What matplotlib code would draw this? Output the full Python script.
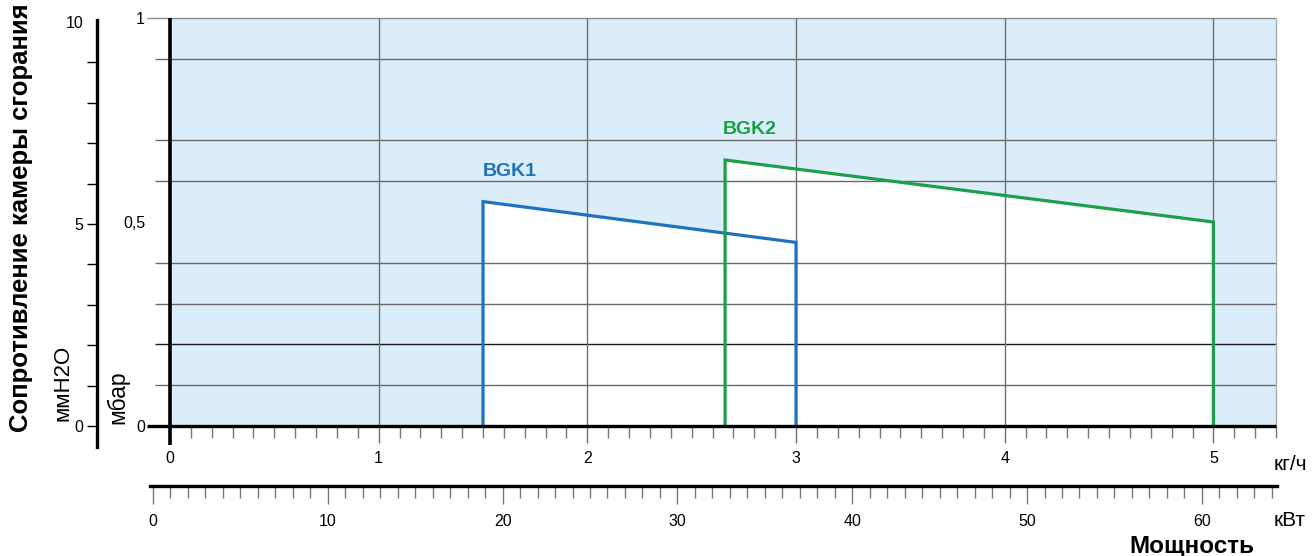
import matplotlib
matplotlib.use("Agg")
import matplotlib.pyplot as plt
import numpy as np

plt.rcParams['font.family'] = ['Liberation Sans', 'DejaVu Sans']

# ---- data (kg/h, mbar) ----
bgk1_x = [1.5, 1.5, 3.0, 3.0]
bgk1_y = [0.0, 0.55, 0.45, 0.0]
bgk2_x = [2.66, 2.66, 5.0, 5.0]
bgk2_y = [0.0, 0.652, 0.50, 0.0]
series_names = ['BGK1', 'BGK2']

kgh_ticks = [0, 1, 2, 3, 4, 5]
kw_ticks = [0, 10, 20, 30, 40, 50, 60]
mbar_ticks = [0, 0.5, 1]
mbar_labels = ['0', '0,5', '1']
mbar_grid = [0.1, 0.2, 0.3, 0.4, 0.6, 0.7, 0.9]
mmh2o_ticks = list(range(0, 11))
mmh2o_labels = ['0', '', '', '', '', '5', '', '', '', '', '10']

BLUE = '#1f72bd'
GREEN = '#1c9f4b'
BG = '#daedf8'

W, H = 1314, 556
def fx(px): return px / W
def fy(py): return 1 - py / H

fig = plt.figure(figsize=(W / 100, H / 100), dpi=100)

# ---- main axes: kg/h vs mbar ----
ax = fig.add_axes([fx(170), fy(426), (1276 - 170) / W, (426 - 18) / H])
ax.set_xlim(0, 5.3)
ax.set_ylim(0, 1)
ax.set_facecolor(BG)
for s in ax.spines.values():
    s.set_visible(False)

ax.fill(bgk1_x, bgk1_y, color='white', zorder=1, lw=0)
ax.fill(bgk2_x, bgk2_y, color='white', zorder=1, lw=0)

for g in mbar_grid:
    col = '#1a1a1a' if abs(g - 0.2) < 1e-9 else '#6a6a6a'
    ax.hlines(g, -0.072, 5.3, color=col, lw=1.0, zorder=2, clip_on=False)
ax.hlines(1.0, -0.11, 5.3, color='#8a8a8a', lw=1.0, zorder=2, clip_on=False)
ax.vlines(kgh_ticks[1:], -0.042, 1.0, color='#6f6f6f', lw=1.0, zorder=2, clip_on=False)
ax.vlines(5.3, 0, 1.0, color='#b0b0b0', lw=1.0, zorder=2, clip_on=False)

ax.plot(bgk1_x, bgk1_y, color=BLUE, lw=2.3, zorder=3, solid_joinstyle='miter')
ax.plot(bgk2_x, bgk2_y, color=GREEN, lw=2.3, zorder=3, solid_joinstyle='miter')

ax.text(bgk1_x[1], bgk1_y[1] + 0.075, series_names[0], color=BLUE, fontsize=14,
        fontweight='bold', ha='left', va='center', zorder=4)
ax.text(bgk2_x[1] - 0.01, bgk2_y[1] + 0.075, series_names[1], color=GREEN, fontsize=14,
        fontweight='bold', ha='left', va='center', zorder=4)

ax.hlines(0, -0.11, 5.3, color='black', lw=2.4, zorder=5, clip_on=False)
ax.vlines(0, -0.047, 1.0, color='black', lw=2.6, zorder=5, clip_on=False)

ax.set_xticks(kgh_ticks)
ax.set_xticklabels([str(t) for t in kgh_ticks], fontsize=11.5)
ax.set_xticks([t / 10 for t in range(1, 54) if t % 10 != 0], minor=True)
ax.tick_params(axis='x', which='major', length=0, pad=18)
ax.tick_params(axis='x', which='minor', length=8.6, width=1, color='#777777', direction='out')
ax.set_yticks(mbar_ticks)
ax.set_yticklabels(mbar_labels, fontsize=11.5)
ax.tick_params(axis='y', which='major', length=0, pad=18)

# ---- mmH2O axis ----
ax2 = fig.add_axes([fx(97), fy(447), 0.0008, (447 - 20) / H])
ax2.set_ylim(-0.52, 10.05)
ax2.patch.set_visible(False)
for k in ['right', 'top', 'bottom']:
    ax2.spines[k].set_visible(False)
ax2.spines['left'].set_linewidth(2.4)
ax2.set_xticks([])
ax2.set_yticks(mmh2o_ticks)
ax2.set_yticklabels(mmh2o_labels, fontsize=11.5)
ax2.tick_params(axis='y', length=7, width=1, pad=3, direction='out')
for t, v in zip(ax2.yaxis.get_major_ticks(), mmh2o_ticks):
    if v in (0, 5):
        t.tick1line.set_color('black')
    elif v == 10:
        t.tick1line.set_visible(False)
    else:
        t.tick1line.set_color('#8a8a8a')

# ---- kW axis ----
ax3 = fig.add_axes([fx(150), fy(486), (1277 - 150) / W, 0.0008])
ax3.set_xlim(-0.17, 64.3)
ax3.patch.set_visible(False)
for k in ['left', 'right', 'top']:
    ax3.spines[k].set_visible(False)
ax3.spines['bottom'].set_linewidth(2.4)
ax3.set_yticks([])
ax3.set_xticks(kw_ticks)
ax3.set_xticklabels([str(t) for t in kw_ticks], fontsize=11.5)
ax3.set_xticks([t for t in range(1, 65) if t % 10 != 0], minor=True)
ax3.tick_params(axis='x', which='major', length=13, width=1, color='#777777', pad=7)
ax3.tick_params(axis='x', which='minor', length=8.6, width=1, color='#777777')

# ---- texts ----
fig.text(fx(1274), fy(465), 'кг/ч', fontsize=15, ha='left', va='center')
fig.text(fx(1274), fy(521), 'кВт', fontsize=15, ha='left', va='center')
fig.text(fx(1254), fy(546), 'Мощность', fontsize=17.5, fontweight='bold', ha='right', va='center')
fig.text(fx(21), fy(218), 'Сопротивление камеры сгорания', fontsize=18.5,
         fontweight='bold', rotation=90, ha='center', va='center')
fig.text(fx(63), fy(421), 'ммH2O', fontsize=16, rotation=90, ha='center', va='bottom')
fig.text(fx(118), fy(424), 'мбар', fontsize=16.5, rotation=90, ha='center', va='bottom')

fig.savefig('out.png', dpi=100)
